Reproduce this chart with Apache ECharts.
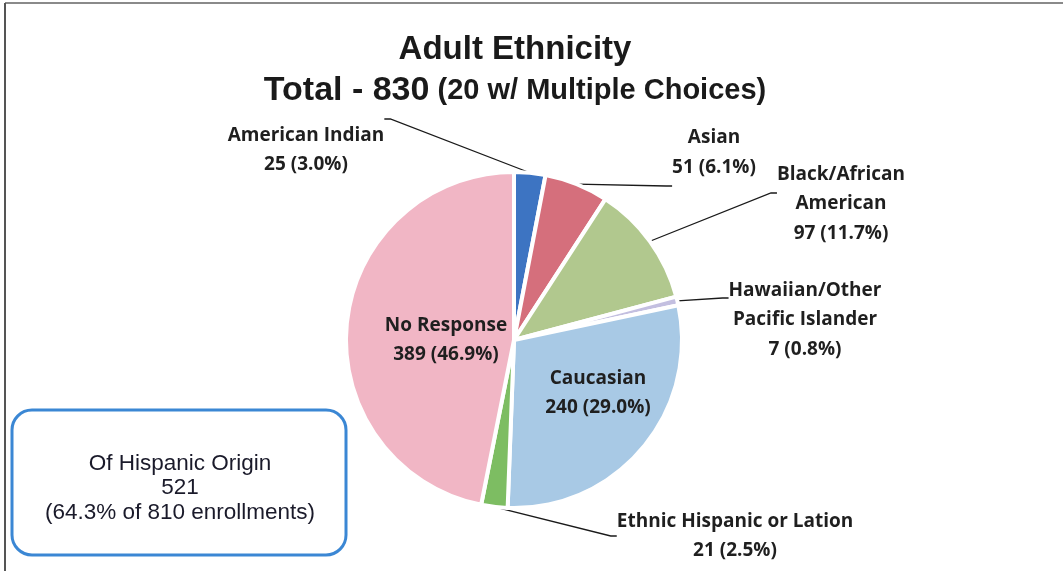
<!DOCTYPE html>
<html>
<head>
<meta charset="utf-8">
<script src="https://cdn.jsdelivr.net/npm/echarts@6/dist/echarts.min.js"></script>
<style>
html,body{margin:0;padding:0;background:#fff;}
#chart{width:1063px;height:571px;}
</style>
</head>
<body>
<div id="chart"></div>
<script>
// ---- Data ----
var categories = ['American Indian', 'Asian', 'Black/African\nAmerican', 'Hawaiian/Other\nPacific Islander', 'Caucasian', 'Ethnic Hispanic or Lation', 'No Response'];
var values = [25, 51, 97, 7, 240, 21, 389];
var percents = [3.0, 6.1, 11.7, 0.8, 29.0, 2.5, 46.9];
var multipleChoices = 20;
var hispanicCount = 521;
var hispanicPct = 64.3;
var enrollments = 810;
var titleMain = 'Adult Ethnicity';

// ---- Styling / layout (not data) ----
var colors = ['#3d74c2', '#d56f7c', '#b1c88e', '#c3bfe0', '#a8c9e5', '#7dbd62', '#f1b6c5'];
// label text centre x, leader-anchor y, spacer above / below the text (px)
var labelLayoutCfg = [
  {x: 306, y: 119, above: 62, below: 0},
  {x: 714, y: 186, above: 0, below: 67},
  {x: 841, y: 193, above: 22, below: 0},
  {x: 805, y: 298, above: 44, below: 0},
  {x: 598, y: 393, above: 0, below: 0},
  {x: 735, y: 536, above: 0, below: 0},
  {x: 446, y: 340, above: 0, below: 0}
];
var insideLabel = [false, false, false, false, true, false, true];

var total = values.reduce(function (a, b) { return a + b; }, 0);

var chart = echarts.init(document.getElementById('chart'), null, {renderer: 'canvas'});

var data = categories.map(function (c, i) {
  var cfg = labelLayoutCfg[i];
  return {
    name: c,
    value: values[i],
    itemStyle: {color: colors[i]},
    label: {
      rich: {
        up: {lineHeight: Math.max(cfg.above, 1), fontSize: 1},
        dn: {lineHeight: Math.max(cfg.below, 1), fontSize: 1}
      }
    },
    labelLine: {show: !insideLabel[i]}
  };
});

var option = {
  animation: false,
  backgroundColor: '#ffffff',
  series: [{
    type: 'pie',
    center: [514, 340],
    radius: 168,
    startAngle: 90,
    clockwise: true,
    avoidLabelOverlap: false,
    emphasis: {disabled: true},
    itemStyle: {borderColor: '#ffffff', borderWidth: 4},
    label: {
      show: true,
      fontFamily: 'Open Sans',
      fontWeight: 'bold',
      fontSize: 19,
      lineHeight: 29.5,
      color: '#1f1f1f',
      align: 'center',
      formatter: function (p) {
        var cfg = labelLayoutCfg[p.dataIndex];
        var txt = p.name + '\n' + p.value + ' (' + percents[p.dataIndex].toFixed(1) + '%)';
        if (cfg.above > 0) { txt = '{up| }\n' + txt; }
        if (cfg.below > 0) { txt = txt + '\n{dn| }'; }
        return txt;
      }
    },
    labelLine: {
      show: true,
      length: 10,
      length2: 6,
      minTurnAngle: 0,
      lineStyle: {color: '#1a1a1a', width: 1.3}
    },
    labelLayout: function (params) {
      var cfg = labelLayoutCfg[params.dataIndex];
      return {x: cfg.x, y: cfg.y, align: 'center', verticalAlign: 'middle'};
    },
    data: data
  }],
  graphic: [
    {type: 'line', shape: {x1: 5, y1: 3, x2: 1063, y2: 3}, style: {stroke: '#8a8a8a', lineWidth: 2}, silent: true},
    {type: 'line', shape: {x1: 5, y1: 3, x2: 5, y2: 571}, style: {stroke: '#555555', lineWidth: 2}, silent: true},
    {
      type: 'text',
      x: 515, y: 29,
      style: {
        text: '{a|' + titleMain + '}\n{b|Total - ' + total + '}{c| (' + multipleChoices + ' w/ Multiple Choices)}',
        align: 'center',
        verticalAlign: 'top',
        rich: {
          a: {fontFamily: 'Liberation Sans', fontWeight: 'bold', fontSize: 33, fill: '#1a1a1a', lineHeight: 41},
          b: {fontFamily: 'Liberation Sans', fontWeight: 'bold', fontSize: 34, fill: '#1a1a1a', lineHeight: 41},
          c: {fontFamily: 'Liberation Sans', fontWeight: 'bold', fontSize: 29, fill: '#1a1a1a', lineHeight: 41}
        }
      },
      silent: true
    },
    {
      type: 'rect',
      shape: {x: 12, y: 410, width: 334, height: 145, r: 20},
      style: {fill: '#ffffff', stroke: '#3b87d4', lineWidth: 3},
      silent: true
    },
    {
      type: 'text',
      x: 180, y: 488,
      style: {
        text: 'Of Hispanic Origin\n' + hispanicCount + '\n(' + hispanicPct.toFixed(1) + '% of ' + enrollments + ' enrollments)',
        fontFamily: 'Liberation Sans',
        fontSize: 22.5,
        lineHeight: 24.5,
        fill: '#1a1a2a',
        align: 'center',
        verticalAlign: 'middle'
      },
      silent: true
    }
  ]
};
chart.setOption(option);
</script>
</body>
</html>
